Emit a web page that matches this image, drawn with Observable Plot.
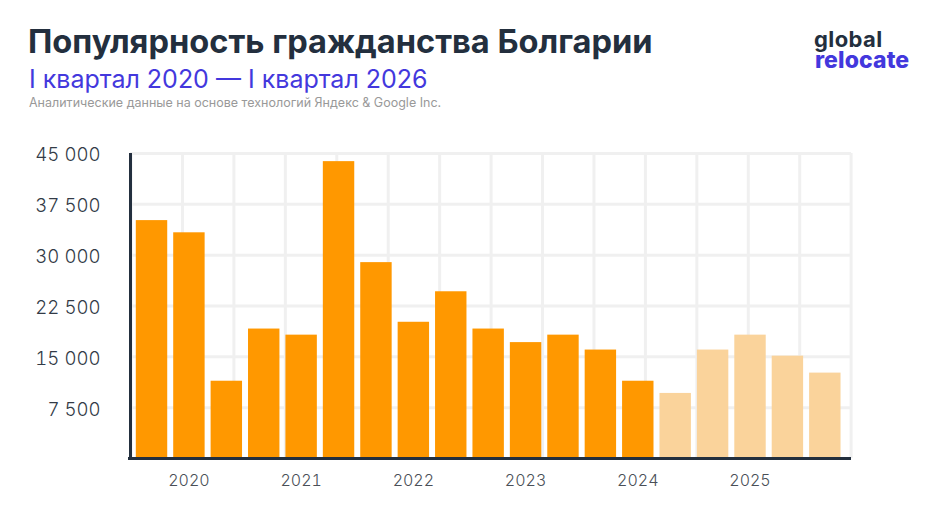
<!DOCTYPE html>
<html lang="ru">
<head>
<meta charset="utf-8">
<script src="https://cdn.jsdelivr.net/npm/d3@7"></script>
<script src="https://cdn.jsdelivr.net/npm/@observablehq/plot@0.6"></script>
<style>
html,body{margin:0;padding:0;background:#fff;width:935px;height:522px;overflow:hidden;font-family:Inter,sans-serif}
#head{position:relative;height:130px;width:935px}
#head div{position:absolute;white-space:nowrap}
#t{left:28px;top:22px;font-size:32.6px;font-weight:700;line-height:38px;color:#232f3e}
#s{left:29px;top:64px;font-size:25px;font-weight:400;line-height:30px;color:#4338dd}
#c{left:29px;top:95px;font-size:12.5px;line-height:16px;color:#999}
#l1{left:814px;top:29px;font-size:22px;font-weight:700;line-height:20px;color:#232f3e;letter-spacing:.4px}
#l2{left:815px;top:50px;font-size:23px;font-weight:800;line-height:20px;color:#4338dd;letter-spacing:.1px}
svg{display:block}
</style>
</head>
<body>
<div id="head">
<div id="t">Популярность гражданства Болгарии</div>
<div id="s">I квартал 2020 — I квартал 2026</div>
<div id="c">Аналитические данные на основе технологий Яндекс &amp; Google Inc.</div>
<div id="l1">global</div>
<div id="l2">relocate</div>
</div>
<div id="chart"></div>
<script>
const values = [35100,33300,11400,19100,18200,43800,28900,20100,24600,19100,17100,18200,16000,11400,9600,16000,18200,15100,12600];
const forecast = [false,false,false,false,false,false,false,false,false,false,false,false,false,false,true,true,true,true,true];
const yearPositions = [1,4,7,10,13,16];
const yearLabels = ["2020","2021","2022","2023","2024","2025"];
const yTicks = [7500,15000,22500,30000,37500,45000];
const gridX = [-0.56,0.815,2.19,3.565,4.94,6.315,7.69,9.065,10.44,11.815,13.19,14.565,15.94,17.315,18.69];
const table = values.map((v,i)=>({i,v,f:forecast[i]}));
const fmt = d => String(d).replace(/\B(?=(\d{3})+$)/g," ");
const ink = "#232f3e";
const plot = Plot.plot({
  width:935, height:392,
  marginLeft:130, marginRight:84, marginTop:23, marginBottom:64,
  style:{background:"transparent",fontFamily:"Inter,sans-serif",fontWeight:300},
  x:{type:"linear",domain:[-0.575,18.7]},
  y:{domain:[0,45000]},
  marks:[
    Plot.ruleX(gridX,{stroke:"#f0f0f0",strokeWidth:3}),
    Plot.ruleY(yTicks,{stroke:"#f0f0f0",strokeWidth:3}),
    Plot.rectY(table,{x1:d=>d.i-0.42,x2:d=>d.i+0.42,y1:0,y2:"v",fill:d=>d.f?"#fad39b":"#ff9800"}),
    Plot.axisY({ticks:yTicks,tickSize:0,tickPadding:0,dx:-30,dy:2,tickFormat:fmt,fontSize:18.6,fill:"#333b47",label:null}),
    Plot.axisX({ticks:yearPositions,tickSize:0,tickPadding:0,dx:-0.5,dy:16,tickFormat:d=>yearLabels[yearPositions.indexOf(d)],fontSize:16,fill:"#4a4f57",label:null}),
    Plot.ruleY([0],{stroke:ink,strokeWidth:3,insetLeft:-2}),
    Plot.ruleX([-0.575],{y1:0,y2:45000,stroke:ink,strokeWidth:3})
  ]
});
document.getElementById("chart").append(plot);
</script>
</body>
</html>
